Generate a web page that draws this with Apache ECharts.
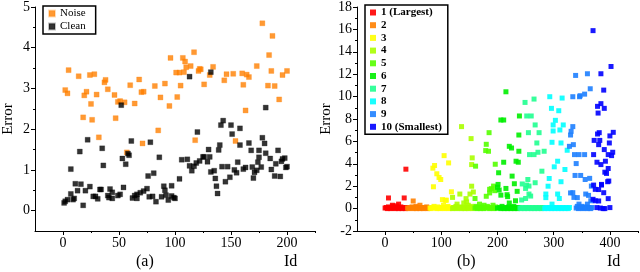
<!DOCTYPE html>
<html><head><meta charset="utf-8">
<script src="https://cdn.jsdelivr.net/npm/echarts@6/dist/echarts.min.js"></script>
<style>html,body{margin:0;padding:0;background:#fff}#c{width:640px;height:272px}</style>
</head><body><div id="c"></div>
<script>
// ---------- Data: panel (a) ----------
var noiseData = [[2,2.96],[4,2.88],[5,3.45],[14,3.30],[18,2.29],[19,2.83],[21,2.92],[24,3.33],[25,2.62],[26,2.23],[28,3.35],[30,2.85],[32,1.80],[37,3.15],[38,3.21],[40,2.98],[46,2.84],[47,2.27],[49,2.67],[51,2.69],[55,2.66],[57,1.43],[60,3.08],[64,2.63],[68,3.22],[70,2.91],[71,1.65],[72,2.92],[82,3.06],[85,1.97],[87,2.78],[91,3.12],[95,2.57],[96,3.75],[101,3.39],[102,2.79],[104,3.39],[105,3.07],[107,3.75],[108,3.40],[109,3.66],[110,3.52],[114,3.55],[117,3.89],[118,1.73],[121,3.43],[122,3.48],[123,3.47],[126,3.10],[131,3.33],[134,3.53],[144,3.20],[146,3.35],[152,3.36],[154,1.71],[160,3.37],[161,3.09],[163,2.46],[164,3.34],[166,3.28],[173,3.55],[178,4.60],[183,3.07],[184,3.82],[186,3.43],[187,4.29],[189,3.06],[193,2.73],[196,3.33],[200,3.43]];
var cleanData = [[1,0.19],[2,0.23],[4,0.27],[7,1.02],[7,0.41],[9,0.27],[10,0.30],[11,0.66],[13,0.49],[15,1.45],[16,0.65],[18,0.13],[20,0.49],[22,1.74],[24,0.59],[27,0.35],[29,0.35],[31,0.29],[33,0.52],[34,0.52],[35,1.53],[36,1.11],[40,0.37],[41,0.32],[42,0.53],[44,0.45],[44,0.30],[49,0.37],[51,0.40],[52,2.59],[53,1.28],[54,0.57],[56,1.14],[58,1.40],[59,1.36],[61,1.71],[62,0.31],[64,0.37],[66,0.40],[66,0.30],[69,0.44],[72,0.48],[75,0.54],[76,0.85],[77,0.34],[78,1.68],[80,0.35],[81,0.92],[83,0.22],[86,1.31],[88,0.34],[90,0.60],[91,0.50],[92,0.38],[94,0.26],[97,0.61],[97,0.36],[99,0.32],[100,0.30],[104,0.78],[106,1.25],[111,1.26],[113,3.29],[113,1.10],[115,0.98],[117,1.09],[119,1.17],[120,1.93],[122,1.22],[125,1.32],[126,1.32],[129,1.20],[130,1.50],[131,1.32],[132,3.40],[132,0.95],[135,0.98],[136,0.79],[137,0.60],[138,0.42],[139,1.49],[140,1.61],[141,2.10],[142,1.08],[143,2.21],[145,0.71],[147,1.08],[149,0.82],[150,2.10],[151,1.88],[153,1.00],[155,0.93],[156,1.19],[158,1.61],[158,2.02],[161,1.02],[163,1.06],[166,1.66],[168,1.48],[169,1.07],[170,0.80],[171,0.94],[173,0.99],[174,1.19],[175,1.31],[175,1.48],[177,1.07],[178,1.79],[180,1.65],[181,2.53],[181,1.41],[185,1.28],[186,1.01],[189,0.85],[190,1.15],[192,1.48],[194,0.84],[195,1.21],[196,1.27],[198,1.29],[199,1.06],[200,1.08]];
var aXLabels = [0,50,100,150,200];
var aXMinor = [25,75,125,175,225];
var aYLabels = [0,1,2,3,4,5];
var aYMinor = [0.5,1.5,2.5,3.5,4.5];

// ---------- Data: panel (b) ----------
var groupNames = ['1 (Largest)','2','3','4','5','6','7','8','9','10 (Smallest)'];
var g1 = [[0,0.05],[2,0.1],[4,0],[6,0.15],[8,0.05],[10,0],[12,0.1],[13,0.3],[14,0.2],[16,0.05],[18,0],[20,0.25],[22,0.1],[24,0.4],[24,0],[26,0.05],[28,0.15],[30,0],[32,0.1],[34,0.05],[36,0],[38,0.1],[6,0.95],[34,0.95],[37,3.52]];
var g2 = [[40,0.05],[42,0],[44,0.1],[46,0.05],[48,0.15],[50,0.68],[50,0],[52,0.1],[54,0.05],[55,0.2],[56,0],[58,0.1],[60,0.05],[62,0.3],[62,0],[64,0.1],[66,0.05],[68,0],[70,0.1],[72,0.05],[74,0.15],[76,0],[78,0.05]];
var g3 = [[80,0.05],[82,0],[84,0.1],[85,3.61],[86,1.95],[87,0.2],[88,3.85],[90,0.05],[92,3.11],[92,0],[94,0.15],[96,2.78],[96,0.05],[98,0],[99,2.60],[100,0.1],[102,0.8],[102,0.05],[104,0.3],[105,4.73],[106,0],[107,0.74],[108,0.1],[109,0.75],[110,0.05],[112,0.2],[113,4.08],[114,0],[116,0.1],[118,1.5],[118,0.05]];
var g4 = [[120,1.0],[120,0],[122,0.1],[124,0.05],[126,0.2],[128,0.4],[128,0],[130,0.1],[132,0.05],[133,1.3],[134,0.15],[136,7.32],[136,0],[138,0.1],[140,0.5],[140,0.05],[142,0],[144,0.89],[144,0.15],[145,0.6],[146,0.05],[148,0.3],[148,0],[150,0.1],[151,1.3],[153,6.25],[154,3.93],[154,2.0],[155,4.53],[152,0.05],[154,0.2],[156,0],[157,1.48],[158,0.1]];
var g5 = [[160,0.05],[160,0.9],[161,3.79],[162,0.2],[164,0],[166,0.1],[168,0.4],[168,0.05],[170,0],[172,0.15],[174,0.05],[176,0.3],[176,0],[178,0.1],[179,5.18],[180,5.74],[180,1.1],[181,0.05],[182,0.2],[184,5.12],[185,6.78],[186,1.72],[186,1.4],[186,0],[188,0.1],[189,1.78],[190,0.05],[192,0.3],[193,2.01],[194,0],[195,1.6],[196,3.96],[197,0.15],[198,0.05]];
var g6 = [[200,0.05],[200,1.9],[201,2.16],[202,3.20],[203,1.66],[204,0.1],[206,7.91],[206,1.2],[206,0],[208,0.2],[210,0.05],[211,7.91],[211,4.14],[212,0],[214,0.1],[215,10.43],[215,1.8],[216,0.05],[217,1.24],[218,1.07],[218,0],[220,0.15],[221,5.56],[221,0.5],[222,0.05],[224,0],[225,5.41],[226,2.90],[226,0.1],[228,0.05],[229,0.2],[230,2.22],[230,0],[232,0.7],[232,0.1],[233,4.23],[234,0.05],[235,1.54],[236,0],[237,4.14],[238,5.12],[238,6.57],[238,0.1],[239,8.27]];
var g7 = [[240,0.05],[242,0],[243,0.77],[244,2.2],[244,0.1],[246,0.05],[248,0],[249,9.48],[250,1.80],[250,0.9],[250,0.1],[252,8.27],[252,2.1],[252,0.05],[254,2.60],[254,0],[255,6.78],[256,2.01],[256,1.3],[256,0.1],[257,4.82],[258,0.05],[259,1.12],[260,8.27],[260,0],[262,0.1],[264,0.05],[265,4.82],[265,9.78],[266,0],[267,2.31],[267,7.47],[268,0.1],[270,5.86],[270,0.05],[272,5.03],[272,0],[274,6.78],[274,0.1],[276,0.05],[278,0],[279,3.34],[280,0.1],[282,0.05],[283,5.12]];
var g8 = [[284,0],[286,0.98],[286,1.3],[286,0.1],[288,0.05],[290,2.0],[290,0],[292,2.69],[292,0.1],[293,9.99],[294,0.05],[296,8.95],[296,0],[297,5.92],[297,0.4],[298,0.1],[299,7.47],[299,6.93],[300,0.05],[301,3.73],[302,0],[303,7.88],[304,0.1],[306,0.05],[307,4.23],[307,1.3],[308,0],[309,8.74],[310,0.9],[310,0.1],[311,7.02],[312,0.05],[313,2.40],[313,5.86],[314,0],[315,9.87],[316,0.1],[317,7.47],[318,0.05],[320,3.49],[320,0],[322,0.1],[324,5.21],[324,0.05],[326,0],[328,0.1]];
var g9 = [[328,5.56],[330,6.57],[330,1.4],[331,6.90],[334,9.99],[334,7.32],[334,1.42],[335,5.71],[336,1.0],[337,4.82],[338,2.96],[339,11.89],[340,4.02],[340,0.05],[342,0.98],[342,0.2],[344,0],[345,4.82],[345,0.4],[346,9.99],[346,0.1],[347,10.08],[348,2.96],[348,0.05],[350,0.2],[352,0],[354,0.1],[355,4.82],[355,10.22],[356,2.60],[356,0.05],[357,1.3],[358,0.15],[360,12.04],[360,0.4],[360,0],[362,1.18],[362,0.1],[364,2.7],[364,0.05],[365,10.70],[366,0.7],[366,0],[367,2.01],[368,0.1]];
var g10 = [[370,15.89],[370,0.83],[371,4.82],[371,2.1],[372,6.09],[374,1.72],[374,0.7],[377,4.14],[377,0.09],[378,9.13],[378,6.66],[379,8.53],[380,5.71],[380,1.7],[380,0.68],[381,6.78],[382,6.09],[383,0.05],[384,12.04],[384,9.37],[384,3.93],[385,2.16],[385,2.1],[388,0],[389,10.58],[389,1.42],[390,8.95],[390,5.27],[391,3.25],[391,0],[392,4.23],[394,3.14],[396,2.4],[397,4.82],[397,3.58],[397,0.89],[398,2.46],[399,5.86],[400,6.49],[400,0.09],[402,12.69],[403,4.73],[405,5.03],[406,6.81]];
var groups = [g1,g2,g3,g4,g5,g6,g7,g8,g9,g10];
var bXLabels = [0,100,200,300,400];
var bXMinor = [50,150,250,350,450];
var bYLabels = [-2,0,2,4,6,8,10,12,14,16,18];
var bYMinor = [-1,1,3,5,7,9,11,13,15,17];

// ---------- Styles ----------
var groupColors = ['#ff0000','#ff8000','#ffff00','#aaff00','#55ff00','#00ee00','#20ff90','#00ffff','#1e80ff','#0000ff'];
var FONT = "'Liberation Serif', 'Times New Roman', serif";

function majorAxis(min, max, labels, grid, pos, extra) {
  var a = {
    type: 'value', gridIndex: grid, min: min, max: max, position: pos,
    axisLine: {show: true, onZero: false, lineStyle: {color: '#000', width: 1}},
    axisTick: {show: true, inside: false, length: 4, lineStyle: {color: '#000'}, customValues: labels},
    axisLabel: {show: true, customValues: labels, color: '#000', fontFamily: FONT, fontSize: 14, margin: 5},
    splitLine: {show: false}
  };
  if (extra) for (var k in extra) a[k] = extra[k];
  return a;
}
function minorAxis(min, max, vals, grid, pos) {
  return {
    type: 'value', gridIndex: grid, min: min, max: max, position: pos, offset: 0,
    axisLine: {show: false, onZero: false},
    axisTick: {show: true, inside: false, length: 2, lineStyle: {color: '#000'}, customValues: vals},
    axisLabel: {show: false},
    splitLine: {show: false}
  };
}

var series = [];
series.push({name: 'Noise', type: 'scatter', xAxisIndex: 0, yAxisIndex: 0, symbol: 'rect', symbolSize: 5,
  itemStyle: {color: '#ff8000', borderColor: 'rgba(255,128,0,0.35)', borderWidth: 1}, data: noiseData});
series.push({name: 'Clean', type: 'scatter', xAxisIndex: 0, yAxisIndex: 0, symbol: 'rect', symbolSize: 5,
  itemStyle: {color: '#000', borderColor: 'rgba(0,0,0,0.3)', borderWidth: 1}, data: cleanData});
for (var i = 0; i < groups.length; i++) {
  series.push({name: groupNames[i], type: 'scatter', xAxisIndex: 2, yAxisIndex: 2, symbol: 'rect', symbolSize: 5,
    itemStyle: {color: groupColors[i], opacity: 0.9}, data: groups[i]});
}

var option = {
  animation: false,
  backgroundColor: '#fff',
  grid: [
    {left: 33, top: 5, width: 282, height: 226, containLabel: false},
    {left: 357, top: 5, width: 281, height: 226, containLabel: false}
  ],
  xAxis: [
    majorAxis(-25, 225, aXLabels, 0, 'bottom'),
    minorAxis(-25, 225, aXMinor, 0, 'bottom'),
    majorAxis(-50, 450, bXLabels, 1, 'bottom'),
    minorAxis(-50, 450, bXMinor, 1, 'bottom')
  ],
  yAxis: [
    majorAxis(-0.5, 5, aYLabels, 0, 'left', {name: 'Error', nameLocation: 'middle', nameGap: 19, nameTextStyle: {fontFamily: FONT, fontSize: 15, color: '#000'}}),
    minorAxis(-0.5, 5, aYMinor, 0, 'left'),
    majorAxis(-2, 18, bYLabels, 1, 'left', {name: 'Error', nameLocation: 'middle', nameGap: 23, nameTextStyle: {fontFamily: FONT, fontSize: 15, color: '#000'}}),
    minorAxis(-2, 18, bYMinor, 1, 'left')
  ],
  legend: [
    {data: ['Noise','Clean'], orient: 'vertical', left: 43, top: 6, padding: [2,10,2,5], itemGap: 2,
     itemWidth: 6, itemHeight: 6, icon: 'rect', borderColor: '#000', borderWidth: 1.5,
     textStyle: {fontFamily: FONT, fontSize: 11, color: '#000'}, selectedMode: false},
    {data: groupNames, orient: 'vertical', left: 365, top: 5, padding: [2,6,2,5], itemGap: 1.7,
     itemWidth: 6, itemHeight: 6, icon: 'rect', borderColor: '#000', borderWidth: 1.5,
     textStyle: {fontFamily: FONT, fontSize: 11, fontWeight: 600, color: '#000'}, selectedMode: false}
  ],
  graphic: [
    {type: 'text', left: 136, top: 254, style: {text: '(a)', font: "16px " + FONT, fill: '#000'}},
    {type: 'text', left: 284, top: 254, style: {text: 'Id', font: "16px " + FONT, fill: '#000'}},
    {type: 'text', left: 457, top: 254, style: {text: '(b)', font: "16px " + FONT, fill: '#000'}},
    {type: 'text', left: 607, top: 254, style: {text: 'Id', font: "16px " + FONT, fill: '#000'}}
  ],
  series: series
};
var chart = echarts.init(document.getElementById('c'), null, {renderer: 'canvas'});
chart.setOption(option);
</script></body></html>
